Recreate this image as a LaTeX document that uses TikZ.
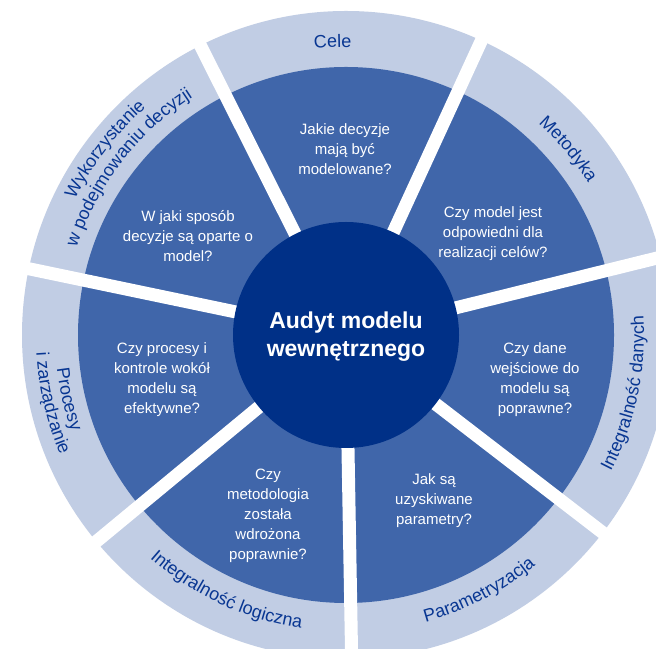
\documentclass[tikz,border=0pt]{standalone}
\usepackage{fontspec}
\setmainfont{Liberation Sans}
\usetikzlibrary{decorations.text}

\definecolor{ringfill}{RGB}{193,205,228}
\definecolor{sectorfill}{RGB}{64,102,170}
\definecolor{hubfill}{RGB}{0,48,135}
\definecolor{ringtext}{RGB}{8,54,146}

\newcommand\ringfont{\fontsize{18bp}{21bp}\selectfont\color{ringtext}}

\tikzset{
  question/.style={text=white, align=center, font=\fontsize{15bp}{20bp}\selectfont},
  hubtext/.style={text=white, align=center, font=\bfseries\fontsize{23bp}{28bp}\selectfont},
  gapline/.style={draw=white, line width=13bp},
  ringlabel/.style={decorate, decoration={text along path, text align=center, text={|\ringfont|#1}}},
}

\begin{document}
\begin{tikzpicture}[x=1bp,y=1bp]
\useasboundingbox (0,0) rectangle (656,649);
\fill[white] (0,0) rectangle (656,649);

\begin{scope}
  \clip (0,0) rectangle (656,649);
  \coordinate (C) at (346,314);
  % outer ring and the seven inner sectors
  \fill[ringfill] (C) circle[radius=324];
  \fill[sectorfill] (C) circle[radius=268];
  % white separators between the seven segments
  \foreach \b in {65.3,116.7,168.2,219.6,271.0,322.4,13.9}
    \draw[gapline] (C) -- ++(\b:345);
  % hub
  \fill[hubfill] (C) circle[radius=113];
\end{scope}

\node[hubtext] (hub) at (346,312) {Audyt modelu\\wewnętrznego};

% questions in the inner sectors
\node[question] (qcele) at (345,500) {Jakie decyzje\\mają być\\modelowane?};
\node[question] (qmet) at (493,415) {Czy model jest\\odpowiedni dla\\realizacji celów?};
\node[question] (qdane) at (535,269) {Czy dane\\wejściowe do\\modelu są\\poprawne?};
\node[question] (qpar) at (434,148) {Jak są\\uzyskiwane\\parametry?};
\node[question] (qlog) at (268,133) {Czy\\metodologia\\została\\wdrożona\\poprawnie?};
\node[question] (qproc) at (162,269) {Czy procesy i\\kontrole wokół\\modelu są\\efektywne?};
\node[question] (qwyk) at (188,413) {W jaki sposób\\decyzje są oparte o\\model?};

% ring labels along arcs
\path[ringlabel=Cele] ([shift={(C)}]122.6:288) arc[start angle=122.6, end angle=62.6, radius=288];
\path[ringlabel=Metodyka] ([shift={(C)}]69.9:286) arc[start angle=69.9, end angle=9.9, radius=286];
\path[ringlabel=Wykorzystanie] ([shift={(C)}]172.4:303) arc[start angle=172.4, end angle=112.4, radius=303];
\path[ringlabel=w podejmowaniu decyzji] ([shift={(C)}]172.4:283) arc[start angle=172.4, end angle=112.4, radius=283];
\path[ringlabel=Procesy] ([shift={(C)}]163:291) arc[start angle=163, end angle=223, radius=291];
\path[ringlabel=i zarządzanie] ([shift={(C)}]163:310) arc[start angle=163, end angle=223, radius=310];
\path[ringlabel=Integralność logiczna] ([shift={(C)}]215:297) arc[start angle=215, end angle=275, radius=297];
\path[ringlabel=Parametryzacja] ([shift={(C)}]-92.5:298) arc[start angle=-92.5, end angle=-32.5, radius=298];
\path[ringlabel=Integralność danych] ([shift={(C)}]-41.8:298) arc[start angle=-41.8, end angle=18.2, radius=298];
\end{tikzpicture}
\end{document}
